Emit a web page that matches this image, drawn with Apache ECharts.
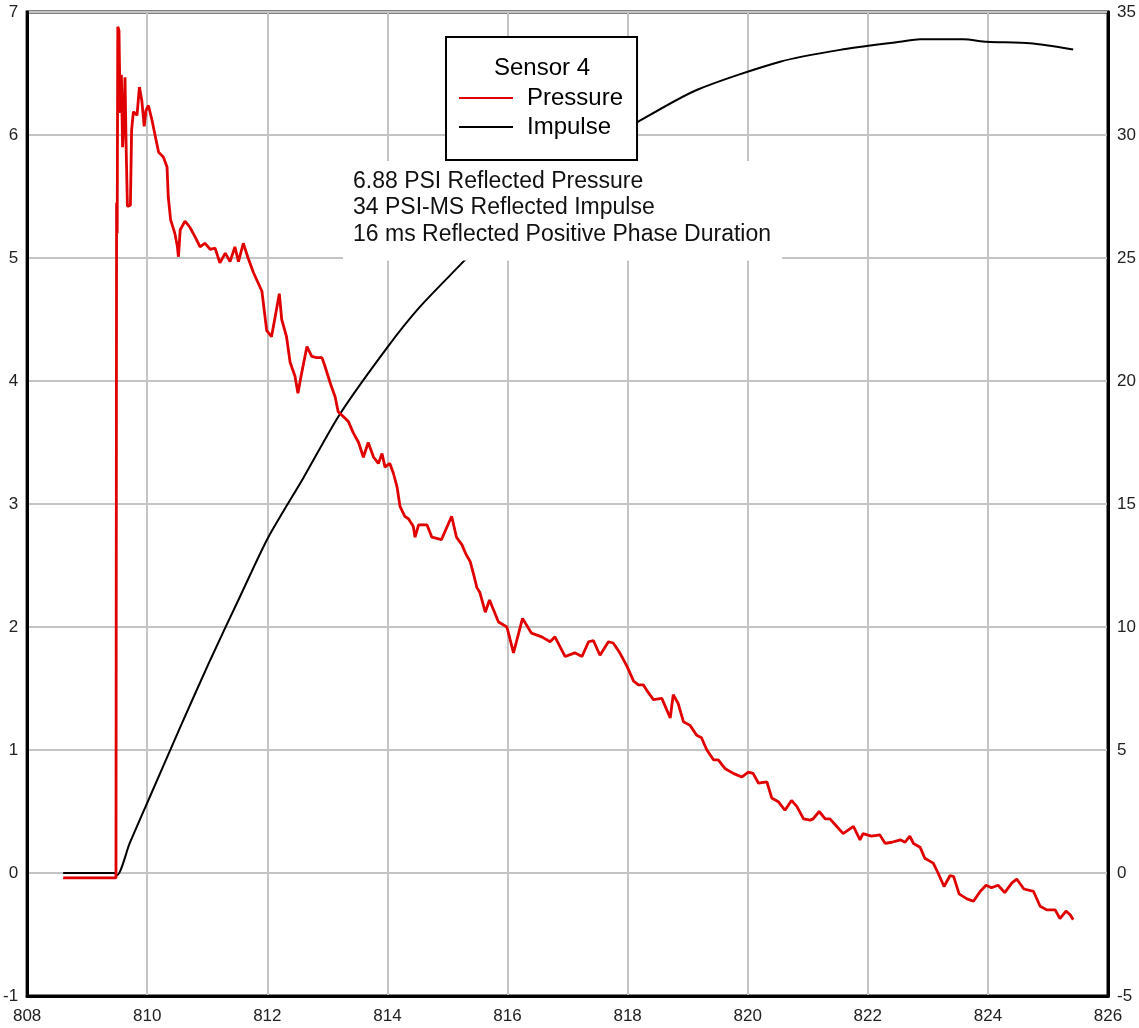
<!DOCTYPE html>
<html>
<head>
<meta charset="utf-8">
<script src="https://cdn.jsdelivr.net/npm/echarts@6/dist/echarts.min.js"></script>
<style>
  html, body { margin: 0; padding: 0; background: #ffffff; }
  #chart { width: 1139px; height: 1028px; }
</style>
</head>
<body>
<div id="chart"></div>
<script>
// Reflected pressure trace (time in ms, pressure in PSI)
const pressureTime = [
  808.60, 809.48, 809.49, 809.50, 809.51, 809.53, 809.55, 809.57, 809.59, 809.61,
  809.63, 809.65, 809.67, 809.72, 809.74, 809.77, 809.83, 809.87, 809.91, 809.95,
  809.98, 810.02, 810.08, 810.13, 810.19, 810.27, 810.33, 810.35, 810.39, 810.46,
  810.50, 810.52, 810.55, 810.63, 810.71, 810.80, 810.88, 810.96, 811.05, 811.13,
  811.21, 811.30, 811.38, 811.46, 811.52, 811.60, 811.68, 811.77, 811.91, 811.99,
  812.07, 812.13, 812.20, 812.24, 812.32, 812.38, 812.46, 812.51, 812.57, 812.66,
  812.74, 812.82, 812.91, 812.96, 813.05, 813.13, 813.18, 813.27, 813.35, 813.43,
  813.52, 813.60, 813.68, 813.77, 813.85, 813.91, 813.96, 814.04, 814.10, 814.16,
  814.21, 814.29, 814.35, 814.43, 814.46, 814.52, 814.66, 814.74, 814.90, 815.07,
  815.15, 815.24, 815.31, 815.38, 815.44, 815.49, 815.54, 815.63, 815.70, 815.85,
  815.99, 816.10, 816.25, 816.40, 816.57, 816.71, 816.79, 816.96, 817.12, 817.24,
  817.35, 817.43, 817.54, 817.68, 817.76, 817.87, 817.99, 818.10, 818.18, 818.26,
  818.34, 818.43, 818.57, 818.71, 818.76, 818.84, 818.93, 819.04, 819.15, 819.23,
  819.32, 819.43, 819.51, 819.62, 819.76, 819.90, 820.01, 820.09, 820.18, 820.32,
  820.40, 820.51, 820.62, 820.73, 820.82, 820.93, 821.04, 821.09, 821.19, 821.29,
  821.37, 821.48, 821.59, 821.76, 821.87, 821.92, 822.06, 822.20, 822.29, 822.40,
  822.54, 822.62, 822.70, 822.76, 822.87, 822.95, 823.09, 823.17, 823.27, 823.37,
  823.43, 823.52, 823.65, 823.76, 823.87, 823.97, 824.06, 824.17, 824.28, 824.40,
  824.48, 824.60, 824.76, 824.87, 824.98, 825.12, 825.20, 825.30, 825.37, 825.42
];
const pressurePsi = [
  -0.04, -0.04, 5.45, 5.20, 6.88, 6.85, 6.18, 6.49, 5.90, 6.10,
  6.47, 5.88, 5.42, 5.43, 6.04, 6.19, 6.16, 6.39, 6.28, 6.07,
  6.20, 6.24, 6.12, 6.00, 5.86, 5.82, 5.74, 5.50, 5.31, 5.20,
  5.10, 5.01, 5.23, 5.30, 5.25, 5.17, 5.09, 5.12, 5.07, 5.08,
  4.96, 5.04, 4.97, 5.09, 4.97, 5.12, 5.00, 4.88, 4.73, 4.41,
  4.36, 4.52, 4.71, 4.50, 4.36, 4.15, 4.04, 3.90, 4.06, 4.28,
  4.20, 4.19, 4.19, 4.12, 3.98, 3.87, 3.75, 3.71, 3.67, 3.58,
  3.50, 3.38, 3.50, 3.38, 3.33, 3.41, 3.30, 3.33, 3.25, 3.14,
  2.98, 2.90, 2.88, 2.82, 2.73, 2.83, 2.83, 2.73, 2.71, 2.90,
  2.73, 2.67, 2.59, 2.53, 2.42, 2.32, 2.28, 2.12, 2.22, 2.04,
  2.00, 1.79, 2.07, 1.95, 1.92, 1.88, 1.92, 1.76, 1.79, 1.76,
  1.88, 1.89, 1.77, 1.88, 1.87, 1.79, 1.68, 1.56, 1.53, 1.53,
  1.47, 1.41, 1.42, 1.26, 1.45, 1.38, 1.23, 1.20, 1.12, 1.10,
  1.00, 0.92, 0.92, 0.85, 0.81, 0.78, 0.82, 0.81, 0.73, 0.74,
  0.61, 0.58, 0.51, 0.59, 0.54, 0.44, 0.43, 0.44, 0.50, 0.44,
  0.44, 0.38, 0.32, 0.38, 0.27, 0.32, 0.30, 0.31, 0.24, 0.25,
  0.27, 0.25, 0.30, 0.24, 0.21, 0.12, 0.08, 0.00, -0.11, -0.02,
  -0.03, -0.17, -0.21, -0.23, -0.15, -0.10, -0.12, -0.10, -0.16, -0.08,
  -0.05, -0.13, -0.15, -0.27, -0.30, -0.30, -0.37, -0.31, -0.34, -0.38
];

// Integrated impulse (time in ms, impulse in PSI-ms)
const impulseTime = [
  808.60, 809.45, 809.50, 809.71, 810.05, 810.55, 811.05, 811.55, 812.01, 812.60,
  813.21, 813.99, 814.54, 815.26, 815.88, 816.54, 817.21, 817.71, 818.17, 819.15,
  820.54, 821.54, 822.54, 822.87, 823.59, 823.98, 824.70, 825.42
];
const impulsePsiMs = [
  0.00, 0.00, -0.08, 1.22, 3.13, 5.93, 8.66, 11.26, 13.62, 16.06,
  18.66, 21.34, 23.01, 24.84, 26.46, 27.76, 28.98, 29.80, 30.53, 31.83,
  32.98, 33.46, 33.79, 33.89, 33.89, 33.79, 33.73, 33.48
];

const legendTitle = 'Sensor 4';
const seriesNames = ['Pressure', 'Impulse'];
const summaryLines = [
  '6.88 PSI Reflected Pressure',
  '34 PSI-MS Reflected Impulse',
  '16 ms Reflected Positive Phase Duration'
];

const FONT = '"Liberation Sans", Arial, sans-serif';
const zip = (xs, ys) => xs.map((x, i) => [x, ys[i]]);

const chart = echarts.init(document.getElementById('chart'), null, { renderer: 'canvas' });

const axisLabel = { color: '#222', fontFamily: FONT, fontSize: 17 };
const gridLine = { show: true, lineStyle: { color: '#c4c4c4', width: 2 } };
const frameLine = { show: true, onZero: false, lineStyle: { color: '#000', width: 3 } };

chart.setOption({
  animation: false,
  backgroundColor: '#ffffff',
  grid: {
    left: 27, right: 31, top: 12, bottom: 32,
    show: true, borderColor: '#000', borderWidth: 3, backgroundColor: 'transparent'
  },
  xAxis: {
    type: 'value', min: 808, max: 826, interval: 2,
    axisLine: frameLine,
    axisTick: { show: false },
    axisLabel: Object.assign({ margin: 12 }, axisLabel),
    splitLine: gridLine
  },
  yAxis: [
    {
      type: 'value', min: -1, max: 7, interval: 1, position: 'left',
      axisLine: frameLine,
      axisTick: { show: false },
      axisLabel: Object.assign({ margin: 9 }, axisLabel),
      splitLine: gridLine
    },
    {
      type: 'value', min: -5, max: 35, interval: 5, position: 'right',
      axisLine: frameLine,
      axisTick: { show: false },
      axisLabel: Object.assign({ margin: 9 }, axisLabel),
      splitLine: { show: false }
    }
  ],
  legend: {
    data: seriesNames,
    orient: 'vertical',
    left: 446, top: 37,
    padding: [47, 14, 19, 13],
    itemGap: 1,
    itemWidth: 54, itemHeight: 2,
    icon: 'rect',
    backgroundColor: '#ffffff',
    borderColor: '#000', borderWidth: 2,
    textStyle: { color: '#000', fontFamily: FONT, fontSize: 24, lineHeight: 28, padding: [0, 0, 0, 9] }
  },
  graphic: [
    {
      type: 'text', x: 542, y: 68, z: 100,
      style: {
        text: legendTitle, font: '24px ' + FONT, fill: '#000',
        textAlign: 'center', textVerticalAlign: 'middle', align: 'center', verticalAlign: 'middle'
      }
    },
    {
      type: 'text', x: 343, y: 161, z: 100,
      style: {
        text: summaryLines.join('\n'), font: '23px ' + FONT, fill: '#111',
        lineHeight: 26.5, backgroundColor: '#ffffff', padding: [7, 11, 13, 10]
      }
    }
  ],
  series: [
    {
      name: seriesNames[0], type: 'line', yAxisIndex: 0,
      data: zip(pressureTime, pressurePsi),
      showSymbol: false, symbol: 'none',
      color: '#e00000',
      lineStyle: { color: '#e00000', width: 2.8 },
      z: 3
    },
    {
      name: seriesNames[1], type: 'line', yAxisIndex: 1,
      data: zip(impulseTime, impulsePsiMs),
      showSymbol: false, symbol: 'none',
      smooth: 0.25,
      color: '#000000',
      lineStyle: { color: '#000000', width: 2 },
      z: 2
    }
  ]
});
</script>
</body>
</html>
